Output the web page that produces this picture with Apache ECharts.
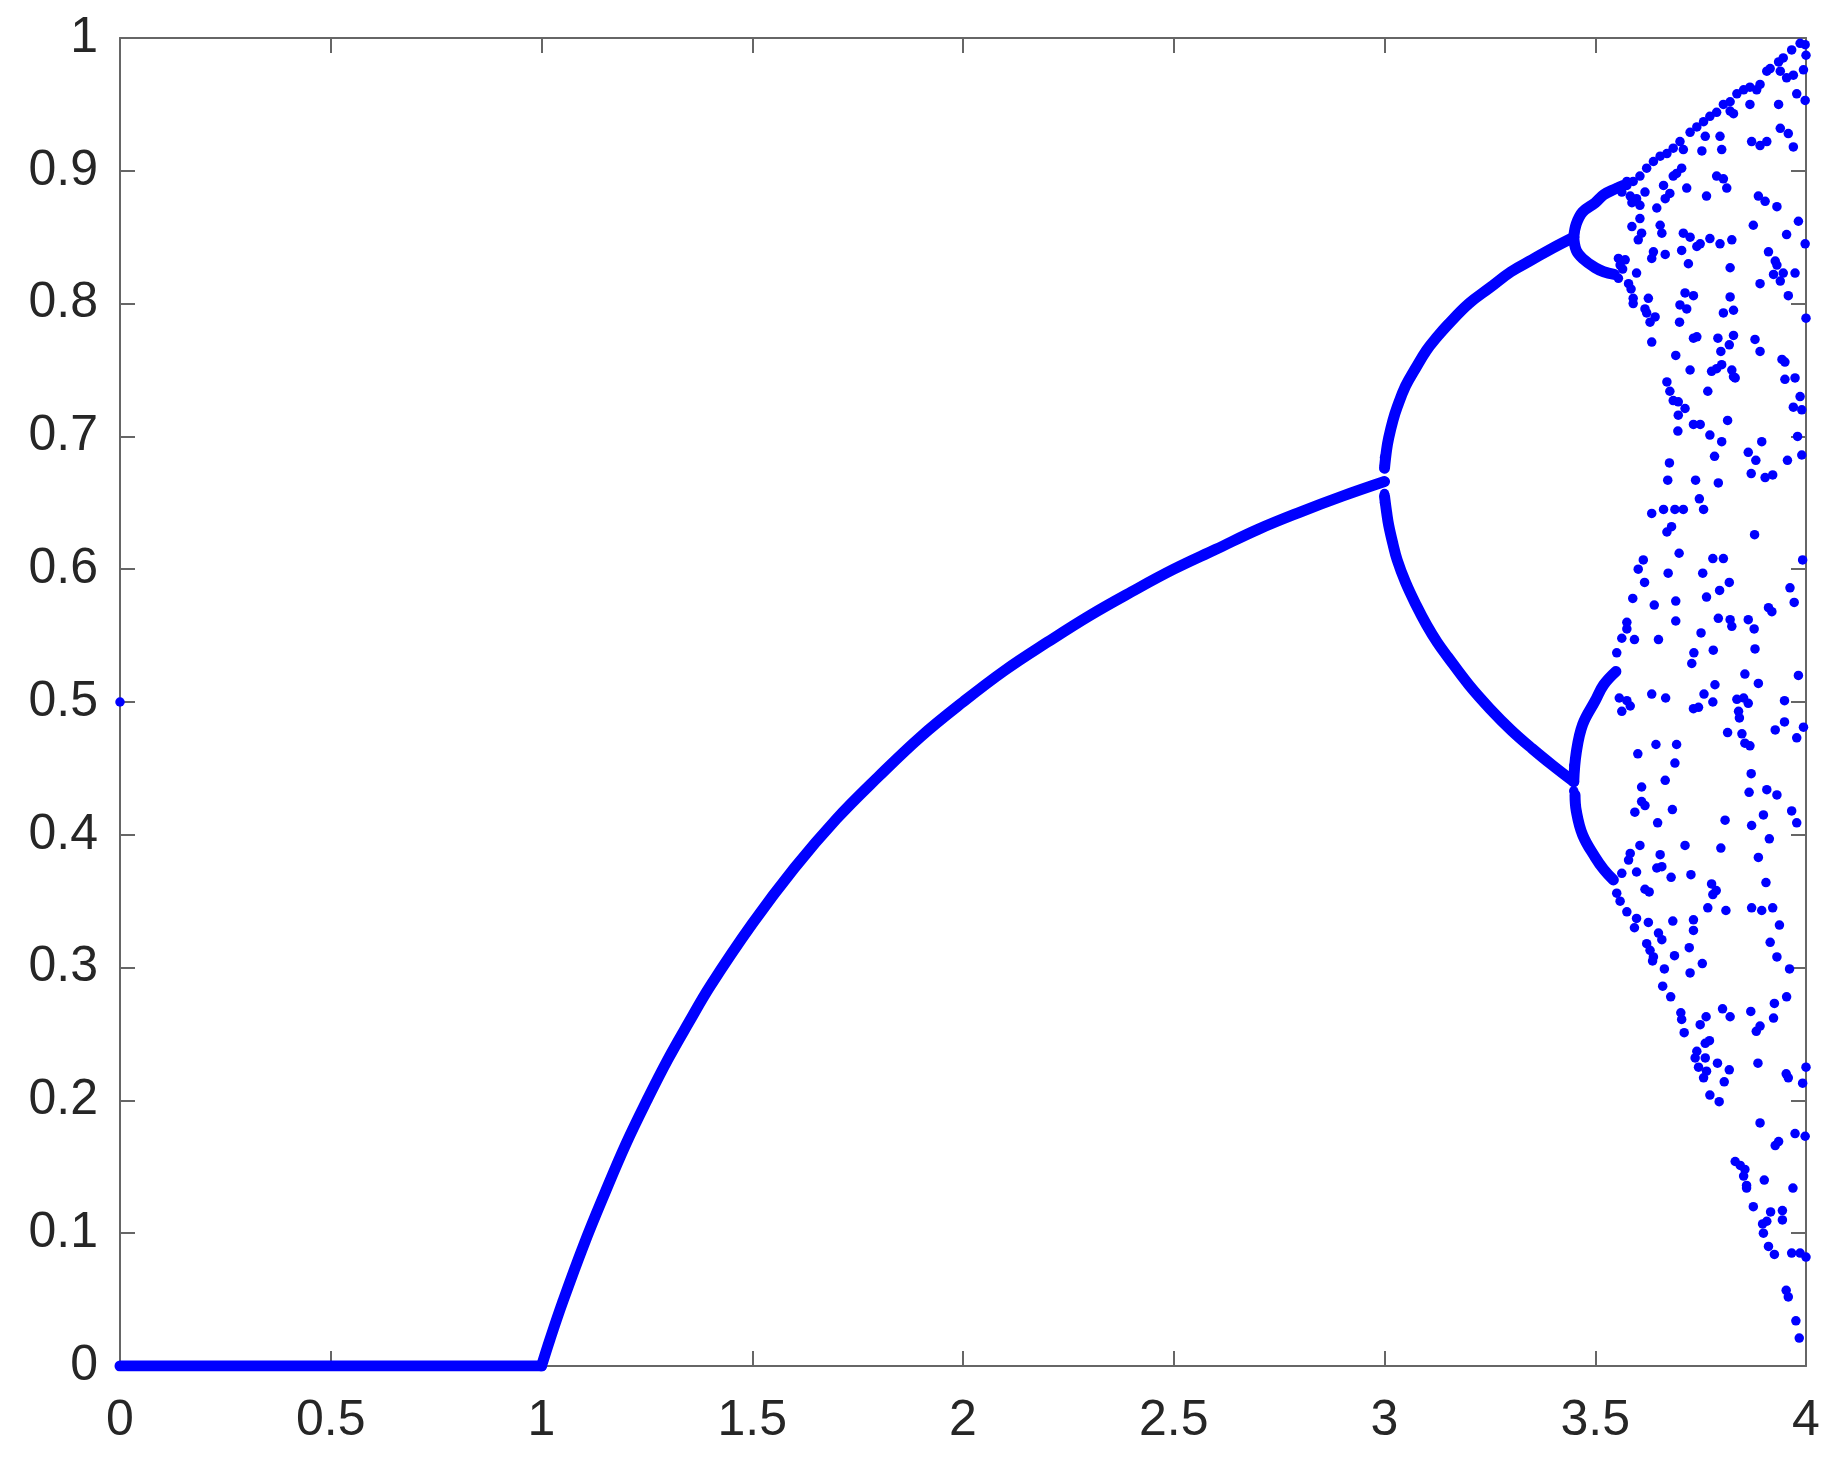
<!DOCTYPE html>
<html>
<head>
<meta charset="utf-8">
<script src="https://cdn.jsdelivr.net/npm/echarts@6/dist/echarts.min.js"></script>
<style>html,body{margin:0;padding:0;background:#fff}#c{width:1833px;height:1469px}</style>
</head>
<body>
<div id="c"></div>
<script>
// tick labels
const xTickLabels = ['0','0.5','1','1.5','2','2.5','3','3.5','4'];
const yTickLabels = ['0','0.1','0.2','0.3','0.4','0.5','0.6','0.7','0.8','0.9','1'];

// fixed point 0 for r in [0,1]
const zeroBranch = [[0,0],[1,0]];
// period-1 branch r in [1,3]
const p1Branch = [[1,0],[1.02,0.020],[1.05,0.048],[1.1,0.091],[1.15,0.130],[1.2,0.167],[1.25,0.200],[1.3,0.231],[1.35,0.259],[1.4,0.286],[1.5,0.333],[1.6,0.375],[1.7,0.412],[1.8,0.444],[1.9,0.474],[2.0,0.500],[2.1,0.524],[2.2,0.545],[2.3,0.565],[2.4,0.583],[2.5,0.600],[2.6,0.615],[2.7,0.630],[2.8,0.643],[2.9,0.655],[3.0,0.666]];
// period-2 branches
const p2Upper = [[3.0,0.676],[3.005,0.690],[3.01,0.699],[3.02,0.712],[3.03,0.722],[3.05,0.738],[3.075,0.752],[3.1,0.765],[3.125,0.775],[3.15,0.784],[3.2,0.800],[3.25,0.812],[3.3,0.824],[3.35,0.833],[3.4,0.842],[3.449,0.850]];
const p2Lower = [[3.0,0.655],[3.005,0.643],[3.01,0.633],[3.02,0.619],[3.03,0.607],[3.05,0.590],[3.075,0.573],[3.1,0.558],[3.125,0.545],[3.15,0.534],[3.2,0.513],[3.25,0.495],[3.3,0.479],[3.35,0.465],[3.4,0.452],[3.449,0.440]];
// period-4 branches
const p4A = [[3.449,0.850],[3.455,0.860],[3.47,0.869],[3.5,0.876],[3.52,0.882],[3.545,0.886],[3.567,0.889]];
const p4B = [[3.449,0.850],[3.455,0.840],[3.47,0.834],[3.5,0.827],[3.52,0.824],[3.545,0.822]];
const p4C = [[3.449,0.440],[3.455,0.462],[3.47,0.483],[3.5,0.501],[3.52,0.513],[3.549,0.523]];
const p4D = [[3.452,0.430],[3.455,0.418],[3.47,0.400],[3.5,0.383],[3.52,0.374],[3.543,0.366]];

// isolated dots (initial value, slow-convergence dots)
const extraDots = [[0,0.5],[3.0,0.650],[3.0,0.657],[3.0,0.678],[3.0,0.684],[3.449,0.446],[3.449,0.452],[3.449,0.433]];

// chaotic region points
const chaosPoints = [
[3.575,0.889],[3.590,0.892],[3.606,0.896],[3.622,0.902],[3.638,0.907],[3.654,0.911],[3.670,0.913],[3.685,0.917],[3.701,0.922],[3.709,0.916],
[3.725,0.929],[3.741,0.933],[3.757,0.937],[3.772,0.941],[3.788,0.944],[3.804,0.950],[3.820,0.952],[3.828,0.943],[3.836,0.958],[3.852,0.961],
[3.867,0.963],[3.883,0.961],[3.891,0.965],[3.907,0.975],[3.915,0.977],[3.935,0.982],[3.946,0.985],[3.966,0.991],[3.986,0.996],[3.998,0.995],
[4.0,0.987],[3.994,0.976],[3.970,0.972],[3.954,0.970],[3.939,0.975],[3.867,0.950],[3.820,0.945],[3.618,0.884],[3.598,0.879],[3.606,0.874],
[3.646,0.872],[3.666,0.879],[3.677,0.883],[3.662,0.889],[3.693,0.898],[3.705,0.902],[3.685,0.896],[3.717,0.887],[3.764,0.881],[3.761,0.926],
[3.796,0.926],[3.753,0.915],[3.800,0.916],[3.788,0.896],[3.804,0.894],[3.812,0.887],[3.871,0.922],[3.891,0.919],[3.907,0.922],[3.939,0.932],
[3.958,0.928],[3.970,0.918],[3.978,0.958],[3.998,0.953],[3.935,0.950],[3.887,0.881],[3.903,0.877],[3.931,0.873],[3.875,0.859],[3.954,0.852],
[3.982,0.862],[3.998,0.845],[3.587,0.858],[3.606,0.864],[3.610,0.853],[3.602,0.848],[3.654,0.859],[3.658,0.853],[3.638,0.839],[3.634,0.834],
[3.666,0.837],[3.709,0.853],[3.725,0.850],[3.705,0.840],[3.741,0.843],[3.749,0.845],[3.772,0.849],[3.796,0.845],[3.824,0.848],[3.721,0.830],
[3.820,0.827],[3.911,0.839],[3.927,0.832],[3.931,0.829],[3.946,0.823],[3.939,0.817],[3.923,0.822],[3.974,0.823],[3.891,0.815],[3.555,0.834],
[3.571,0.833],[3.559,0.829],[3.598,0.823],[3.579,0.815],[3.555,0.819],[3.590,0.804],[3.626,0.804],[3.713,0.808],[3.733,0.806],[3.820,0.805],
[3.958,0.806],[3.551,0.887],[3.563,0.884],[3.583,0.881],[3.587,0.876],[3.575,0.892],[3.565,0.826],[3.585,0.811],
[3.590,0.800],[3.618,0.796],[3.622,0.793],[3.642,0.790],[3.630,0.786],[3.634,0.771],[3.701,0.799],[3.717,0.796],[3.700,0.786],[3.804,0.793],
[3.828,0.795],[4.0,0.789],[3.733,0.774],[3.741,0.775],[3.791,0.774],[3.828,0.776],[3.818,0.769],[3.798,0.764],[3.691,0.761],[3.725,0.750],
[3.776,0.749],[3.788,0.751],[3.800,0.754],[3.824,0.750],[3.828,0.745],[3.832,0.744],[3.879,0.773],[3.891,0.764],[3.943,0.758],[3.950,0.756],
[3.950,0.743],[3.974,0.744],[3.986,0.730],[3.970,0.722],[3.990,0.720],[3.670,0.741],[3.677,0.734],[3.685,0.727],[3.697,0.726],[3.713,0.721],
[3.697,0.716],[3.767,0.734],[3.814,0.712],[3.733,0.709],[3.749,0.709],[3.696,0.704],[3.772,0.701],[3.800,0.696],[3.895,0.696],[3.863,0.688],
[3.881,0.682],[3.980,0.700],[3.990,0.686],[3.956,0.682],[3.783,0.685],[3.676,0.680],[3.672,0.667],[3.738,0.667],[3.792,0.665],[3.870,0.672],
[3.903,0.669],[3.921,0.671],[3.747,0.653],[3.757,0.645],[3.634,0.642],[3.662,0.645],[3.689,0.645],[3.709,0.645],[3.681,0.632],[3.670,0.628],
[3.878,0.626],[3.614,0.607],[3.699,0.612],[3.779,0.608],[3.804,0.608],[3.992,0.607],[3.602,0.600],[3.673,0.597],[3.755,0.597],
[3.617,0.590],[3.818,0.590],[3.795,0.584],[3.764,0.579],[3.589,0.578],[3.640,0.573],[3.691,0.576],[3.691,0.561],[3.962,0.586],[3.972,0.575],
[3.911,0.571],[3.919,0.568],[3.792,0.563],[3.820,0.562],[3.824,0.557],[3.863,0.562],[3.877,0.555],[3.751,0.552],[3.575,0.560],[3.575,0.555],
[3.563,0.548],[3.593,0.547],[3.650,0.547],[3.551,0.537],[3.734,0.537],[3.729,0.529],[3.780,0.539],[3.879,0.540],[3.855,0.521],[3.887,0.514],
[3.982,0.520],[3.784,0.513],[3.758,0.506],[3.779,0.500],[3.634,0.506],[3.667,0.503],[3.557,0.503],[3.575,0.501],[3.583,0.497],[3.563,0.493],
[3.733,0.495],[3.745,0.496],[3.836,0.502],[3.852,0.503],[3.863,0.499],[3.840,0.493],[3.842,0.488],[3.949,0.501],[3.949,0.485],[3.927,0.479],
[3.994,0.481],[3.978,0.473],[3.814,0.477],[3.848,0.476],[3.855,0.469],[3.867,0.467],[3.644,0.468],[3.693,0.468],[3.601,0.461],[3.689,0.454],
[3.870,0.446],[3.666,0.441],[3.610,0.436],[3.865,0.432],[3.907,0.434],[3.931,0.430],[3.610,0.425],[3.618,0.422],[3.594,0.417],[3.683,0.419],
[3.648,0.409],[3.808,0.411],[3.871,0.407],[3.899,0.415],[3.966,0.418],[3.978,0.409],[3.913,0.397],[3.606,0.392],[3.713,0.392],[3.798,0.390],
[3.583,0.386],[3.579,0.381],[3.654,0.385],[3.646,0.375],[3.658,0.376],[3.563,0.371],[3.598,0.372],[3.680,0.368],[3.727,0.370],[3.887,0.383],
[3.905,0.364],[3.776,0.363],[3.787,0.358],[3.779,0.355],[3.618,0.359],[3.628,0.357],[3.551,0.356],[3.559,0.350],[3.575,0.342],[3.598,0.337],
[3.593,0.330],[3.626,0.334],[3.684,0.335],[3.733,0.336],[3.733,0.328],[3.767,0.345],[3.810,0.343],[3.871,0.345],[3.895,0.343],[3.921,0.345],
[3.937,0.332],[3.915,0.319],[3.931,0.308],[3.961,0.299],[3.650,0.326],[3.658,0.321],[3.622,0.318],[3.630,0.313],[3.638,0.308],[3.636,0.305],
[3.723,0.315],[3.688,0.309],[3.754,0.303],[3.664,0.299],[3.725,0.296],[3.660,0.286],[3.679,0.278],[3.703,0.266],[3.705,0.261],[3.711,0.251],
[3.749,0.257],[3.763,0.263],[3.802,0.269],[3.820,0.263],[3.869,0.267],[3.923,0.262],[3.925,0.273],[3.954,0.278],[3.891,0.256],[3.882,0.252],
[3.771,0.245],[3.761,0.243],[3.741,0.237],[3.737,0.232],[3.761,0.232],[3.745,0.225],[3.764,0.222],[3.757,0.217],[3.790,0.228],[3.818,0.223],
[3.806,0.214],[3.886,0.228],[3.953,0.220],[3.958,0.217],[4.0,0.225],[3.992,0.213],[3.772,0.204],[3.794,0.199],
[3.891,0.183],[3.974,0.175],[3.998,0.173],[3.927,0.166],[3.935,0.169],[3.832,0.154],[3.844,0.151],[3.855,0.148],[3.852,0.143],[3.859,0.136],
[3.859,0.134],[3.901,0.140],[3.969,0.134],[3.875,0.120],[3.916,0.116],[3.944,0.117],[3.944,0.110],[3.897,0.107],[3.907,0.109],[3.899,0.100],
[3.911,0.090],[3.925,0.084],[3.966,0.085],[3.986,0.085],[4.0,0.082],[3.953,0.057],[3.958,0.052],[3.976,0.034],[3.984,0.021]
];

const BLUE = '#0000ff';
const LW = 11;
function branch(d){
  return {type:'line', data:d, xAxisIndex:0, yAxisIndex:0, showSymbol:false, symbol:'none', smooth:0.4,
    lineStyle:{color:BLUE, width:LW, cap:'round', join:'round'}, silent:true, animation:false};
}
const axisLineStyle = {color:'#666', width:2};
const labelStyle = {color:'#262626', fontSize:50, fontFamily:'"Liberation Sans", Arial, sans-serif'};

const chart = echarts.init(document.getElementById('c'), null, {renderer:'canvas'});
chart.setOption({
  animation:false,
  backgroundColor:'#fff',
  grid:{left:120, right:27, top:38, bottom:103, containLabel:false},
  xAxis:[
    {type:'value', min:0, max:4, interval:0.5, position:'bottom',
     axisLine:{show:true, onZero:false, lineStyle:axisLineStyle},
     axisTick:{show:true, inside:true, length:15, lineStyle:axisLineStyle},
     axisLabel:Object.assign({margin:30, formatter:v=>xTickLabels[Math.round(v/0.5)]}, labelStyle),
     splitLine:{show:false}},
    {type:'value', min:0, max:4, interval:0.5, position:'top',
     axisLine:{show:true, onZero:false, lineStyle:axisLineStyle},
     axisTick:{show:true, inside:true, length:15, lineStyle:axisLineStyle},
     axisLabel:{show:false}, splitLine:{show:false}}
  ],
  yAxis:[
    {type:'value', min:0, max:1, interval:0.1, position:'left',
     axisLine:{show:true, onZero:false, lineStyle:axisLineStyle},
     axisTick:{show:true, inside:true, length:15, lineStyle:axisLineStyle},
     axisLabel:Object.assign({margin:22, formatter:v=>yTickLabels[Math.round(v*10)]}, labelStyle),
     splitLine:{show:false}},
    {type:'value', min:0, max:1, interval:0.1, position:'right',
     axisLine:{show:true, onZero:false, lineStyle:axisLineStyle},
     axisTick:{show:true, inside:true, length:15, lineStyle:axisLineStyle},
     axisLabel:{show:false}, splitLine:{show:false}}
  ],
  series:[
    branch(zeroBranch), branch(p1Branch), branch(p2Upper), branch(p2Lower),
    branch(p4A), branch(p4B), branch(p4C), branch(p4D),
    {type:'scatter', data:chaosPoints.concat(extraDots), symbol:'circle', symbolSize:9.5,
     itemStyle:{color:BLUE, opacity:1}, silent:true, animation:false, clip:false}
  ]
});
</script>
</body>
</html>
